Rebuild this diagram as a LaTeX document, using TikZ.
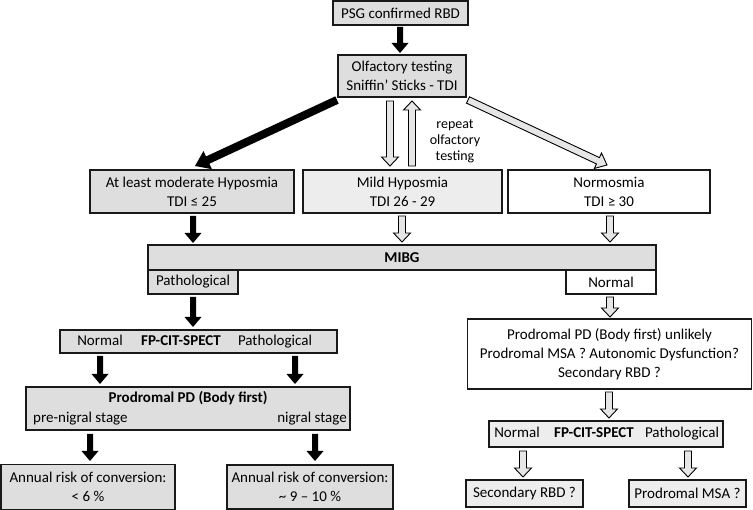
\documentclass[tikz,border=0pt]{standalone}
\usepackage{fontspec}
\setmainfont{Carlito}
\usetikzlibrary{calc}
\definecolor{grayA}{HTML}{DEDEDE}
\definecolor{grayB}{HTML}{EDEDED}
\definecolor{arrfill}{HTML}{E6E6E6}
% block arrow: #1 style, #2 from, #3 to, #4 half shaft, #5 half head, #6 head length
\newcommand\blockarr[6]{%
  \coordinate (hb) at ($(#3)!#6!(#2)$);
  \path[#1] ($(#2)!#4!90:(#3)$) -- ($(hb)!#4!-90:(#2)$) -- ($(hb)!#5!-90:(#2)$) -- (#3)
     -- ($(hb)!#5!90:(#2)$) -- ($(hb)!#4!90:(#2)$) -- ($(#2)!#4!-90:(#3)$) -- cycle;
}
\begin{document}
\begin{tikzpicture}[x=1pt,y=-1pt,
  box/.style={draw=black!90, line width=1.8pt, rectangle, inner sep=0pt, align=center,
    font=\fontsize{15}{19}\selectfont},
  txt/.style={inner sep=0pt, font=\fontsize{15}{19}\selectfont, text height=11pt, text depth=3.5pt},
  blk/.style={fill=black},
  hol/.style={draw=black, line width=0.9pt, fill=arrfill, line join=miter}]
\useasboundingbox (0,0) rectangle (753,510);

% boxes
\node[box, fill=grayA, minimum width=135pt, minimum height=24pt] (psg) at (400.5,13) {PSG confirmed RBD};
\node[box, fill=grayA, minimum width=128pt, minimum height=42pt] (olf) at (402,76) {Olfactory testing\\Sniffin’ Sticks - TDI};
\node[box, fill=grayA, minimum width=204pt, minimum height=43pt] (hyp) at (192,191.5) {At least moderate Hyposmia\\TDI ≤ 25};
\node[box, fill=grayB, minimum width=199pt, minimum height=43pt] (mild) at (402.5,191.5) {Mild Hyposmia\\TDI 26 - 29};
\node[box, fill=white, minimum width=202pt, minimum height=43pt] (norm) at (609,191.5) {Normosmia\\TDI ≥ 30};
\node[txt, align=center, font=\fontsize{14}{16}\selectfont, text height=, text depth=] (rep) at (455,141) {repeat\\olfactory\\testing};

\node[box, fill=grayA, minimum width=508pt, minimum height=25pt, font=\fontsize{15}{19}\selectfont\bfseries] (mibg) at (402,257.5) {MIBG};
\node[box, fill=grayA, minimum width=90pt, minimum height=24pt] (mpath) at (193,282) {Pathological};
\node[box, fill=white, minimum width=90pt, minimum height=24pt] (mnorm) at (611,282) {Normal};

% left branch
\node[box, fill=grayA, minimum width=277pt, minimum height=23pt] (fpl) at (198.5,341.5) {};
\node[txt] (fplN) at (100,341.5) {Normal};
\node[txt, font=\fontsize{15}{19}\selectfont\bfseries] (fplF) at (181,341.5) {FP-CIT-SPECT};
\node[txt] (fplP) at (275,341.5) {Pathological};

\node[box, fill=grayA, minimum width=324pt, minimum height=43pt] (prod) at (188,408.5) {};
\node[txt, font=\fontsize{15}{19}\selectfont\bfseries] (prodT) at (188,398.5) {Prodromal PD (Body first)};
\node[txt, anchor=west] (prodL) at (33,418.5) {pre-nigral stage};
\node[txt, anchor=east] (prodR) at (347,418.5) {nigral stage};

\node[box, fill=grayA, minimum width=174pt, minimum height=45pt] (annl) at (88,487) {Annual risk of conversion:\\< 6 \%};
\node[box, fill=grayA, minimum width=166pt, minimum height=44pt] (annr) at (310,487) {Annual risk of conversion:\\\textasciitilde\ 9 – 10 \%};

% right branch
\node[box, fill=white, minimum width=284pt, minimum height=70pt] (big) at (609.5,354) {Prodromal PD (Body first) unlikely\\Prodromal MSA ? Autonomic Dysfunction?\\Secondary RBD ?};
\node[box, fill=grayB, minimum width=234pt, minimum height=26pt] (fpr) at (606,434) {};
\node[txt] (fprN) at (517,434) {Normal};
\node[txt, font=\fontsize{15}{19}\selectfont\bfseries] (fprF) at (594,434) {FP-CIT-SPECT};
\node[txt] (fprP) at (682,434) {Pathological};
\node[box, fill=grayB, minimum width=117pt, minimum height=27pt] (sec) at (524.5,493.5) {Secondary RBD ?};
\node[box, fill=grayB, minimum width=117pt, minimum height=27pt] (msa) at (687.5,493.5) {Prodromal MSA ?};

% arrow end points
\coordinate (a1s) at (400,27);   \coordinate (a1e) at (400,53);
\coordinate (a2s) at (337,100);  \coordinate (a2e) at (195,166);
\coordinate (a3s) at (390,101);  \coordinate (a3e) at (390,166);
\coordinate (a4s) at (412,166);  \coordinate (a4e) at (412,101);
\coordinate (a5s) at (468,100);  \coordinate (a5e) at (607,165);
\coordinate (a6s) at (193,216);  \coordinate (a6e) at (193,243);
\coordinate (a7s) at (402,216);  \coordinate (a7e) at (402,242);
\coordinate (a8s) at (610,216);  \coordinate (a8e) at (610,242);
\coordinate (a9s) at (193,297);  \coordinate (a9e) at (193,327);
\coordinate (a10s) at (610,297); \coordinate (a10e) at (610,317);
\coordinate (a11s) at (100,356); \coordinate (a11e) at (100,384);
\coordinate (a12s) at (295,356); \coordinate (a12e) at (295,384);
\coordinate (a13s) at (90,434);  \coordinate (a13e) at (90,461);
\coordinate (a14s) at (315,434); \coordinate (a14e) at (315,461);
\coordinate (a15s) at (609,392); \coordinate (a15e) at (609,418);
\coordinate (a16s) at (523,451); \coordinate (a16e) at (523,477);
\coordinate (a17s) at (688,451); \coordinate (a17e) at (688,477);

\blockarr{blk}{a1s}{a1e}{3pt}{8.5pt}{10pt}
\blockarr{blk}{a2s}{a2e}{4pt}{10pt}{14pt}
\blockarr{hol}{a3s}{a3e}{3.5pt}{8.5pt}{9pt}
\blockarr{hol}{a4s}{a4e}{3.5pt}{8.5pt}{9pt}
\blockarr{hol}{a5s}{a5e}{3.5pt}{8.5pt}{10pt}
\blockarr{blk}{a6s}{a6e}{3pt}{8.5pt}{10pt}
\blockarr{hol}{a7s}{a7e}{3.5pt}{8.5pt}{9pt}
\blockarr{hol}{a8s}{a8e}{3.5pt}{8.5pt}{9pt}
\blockarr{blk}{a9s}{a9e}{3pt}{8.5pt}{10pt}
\blockarr{hol}{a10s}{a10e}{3.5pt}{8.5pt}{9pt}
\blockarr{blk}{a11s}{a11e}{3pt}{8.5pt}{10pt}
\blockarr{blk}{a12s}{a12e}{3pt}{8.5pt}{10pt}
\blockarr{blk}{a13s}{a13e}{3pt}{8.5pt}{10pt}
\blockarr{blk}{a14s}{a14e}{3pt}{8.5pt}{10pt}
\blockarr{hol}{a15s}{a15e}{3.5pt}{8.5pt}{9pt}
\blockarr{hol}{a16s}{a16e}{3.5pt}{8.5pt}{9pt}
\blockarr{hol}{a17s}{a17e}{3.5pt}{8.5pt}{9pt}
\end{tikzpicture}
\end{document}
